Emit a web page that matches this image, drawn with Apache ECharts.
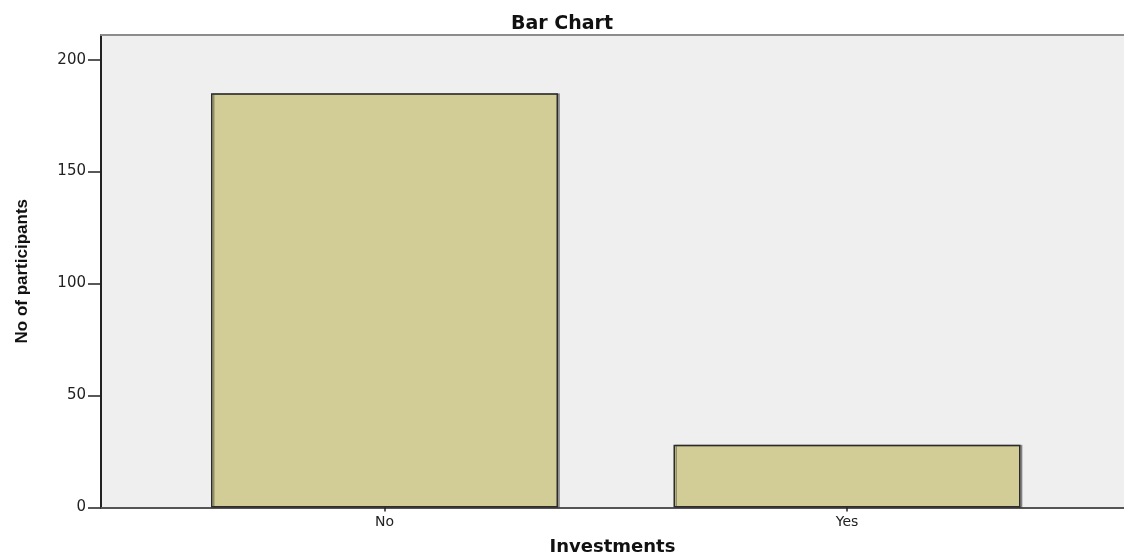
<!DOCTYPE html>
<html>
<head>
<meta charset="utf-8">
<title>Bar Chart</title>
<script src="https://cdn.jsdelivr.net/npm/echarts@6/dist/echarts.min.js"></script>
<style>
  html, body { margin: 0; padding: 0; background: #fff; }
  #chart { width: 1124px; height: 560px; }
</style>
</head>
<body>
<div id="chart"></div>
<script>
// data
const categories = ["No", "Yes"];
const participants = [185, 28];
const yTicks = [0, 50, 100, 150, 200];

const plotTop = 35;
const plotHeight = 472.5;
const yMax = 211;

const chart = echarts.init(document.getElementById("chart"));
chart.setOption({
  animation: false,
  title: {
    text: "Bar Chart",
    left: "center",
    top: 10,
    textStyle: {
      fontFamily: "DejaVu Sans",
      fontWeight: "bold",
      fontSize: 19,
      color: "#111",
    },
  },
  grid: [
    // grey plot panel with the axes
    {
      left: 101,
      right: 0,
      top: plotTop,
      height: plotHeight,
      outerBoundsMode: "none",
      show: true,
      backgroundColor: "#efefef",
      borderWidth: 0,
    },
    // inner grid the bars sit in (SPSS spacing)
    {
      left: 153.25,
      width: 925,
      top: plotTop,
      height: plotHeight,
      outerBoundsMode: "none",
    },
  ],
  xAxis: [
    {
      gridIndex: 0,
      type: "category",
      data: [""],
      name: "Investments",
      nameLocation: "middle",
      nameGap: 31,
      nameTextStyle: {
        fontFamily: "DejaVu Sans",
        fontWeight: "bold",
        fontSize: 18,
        color: "#111",
      },
      axisLine: { show: true, lineStyle: { color: "#555", width: 2 } },
      axisTick: { show: false },
      axisLabel: { show: false },
    },
    {
      // top border of the panel
      gridIndex: 0,
      type: "category",
      data: [""],
      position: "top",
      axisLine: { show: true, lineStyle: { color: "#8c8c8c", width: 2 } },
      axisTick: { show: false },
      axisLabel: { show: false },
    },
    {
      gridIndex: 1,
      type: "category",
      data: categories,
      axisLine: { show: false },
      axisTick: {
        show: true,
        alignWithLabel: true,
        length: 4,
        lineStyle: { color: "#222", width: 1.5 },
      },
      axisLabel: {
        margin: 8,
        fontFamily: "DejaVu Sans",
        fontSize: 14,
        color: "#222",
      },
    },
  ],
  yAxis: [
    {
      gridIndex: 0,
      type: "value",
      min: 0,
      max: yMax,
      name: "No of participants",
      nameLocation: "middle",
      nameGap: 70,
      nameTextStyle: {
        fontFamily: "Liberation Sans",
        fontWeight: "bold",
        fontSize: 17,
        color: "#111",
      },
      splitLine: { show: false },
      axisLine: { show: true, lineStyle: { color: "#222", width: 2 } },
      axisTick: {
        show: true,
        length: 13,
        customValues: yTicks,
        lineStyle: { color: "#222", width: 1.5 },
      },
      axisLabel: {
        margin: 15,
        customValues: yTicks,
        fontFamily: "DejaVu Sans",
        fontSize: 15,
        color: "#222",
      },
    },
    {
      gridIndex: 1,
      type: "value",
      min: 0,
      max: yMax,
      show: false,
    },
  ],
  series: [
    {
      type: "bar",
      xAxisIndex: 2,
      yAxisIndex: 1,
      data: participants,
      barWidth: 347,
      itemStyle: {
        color: "#d2cd96",
        borderColor: "#2b2b2b",
        borderWidth: 1.5,
        shadowColor: "rgba(0,0,0,0.3)",
        shadowOffsetX: 2,
        shadowBlur: 0,
      },
    },
  ],
});
</script>
</body>
</html>
